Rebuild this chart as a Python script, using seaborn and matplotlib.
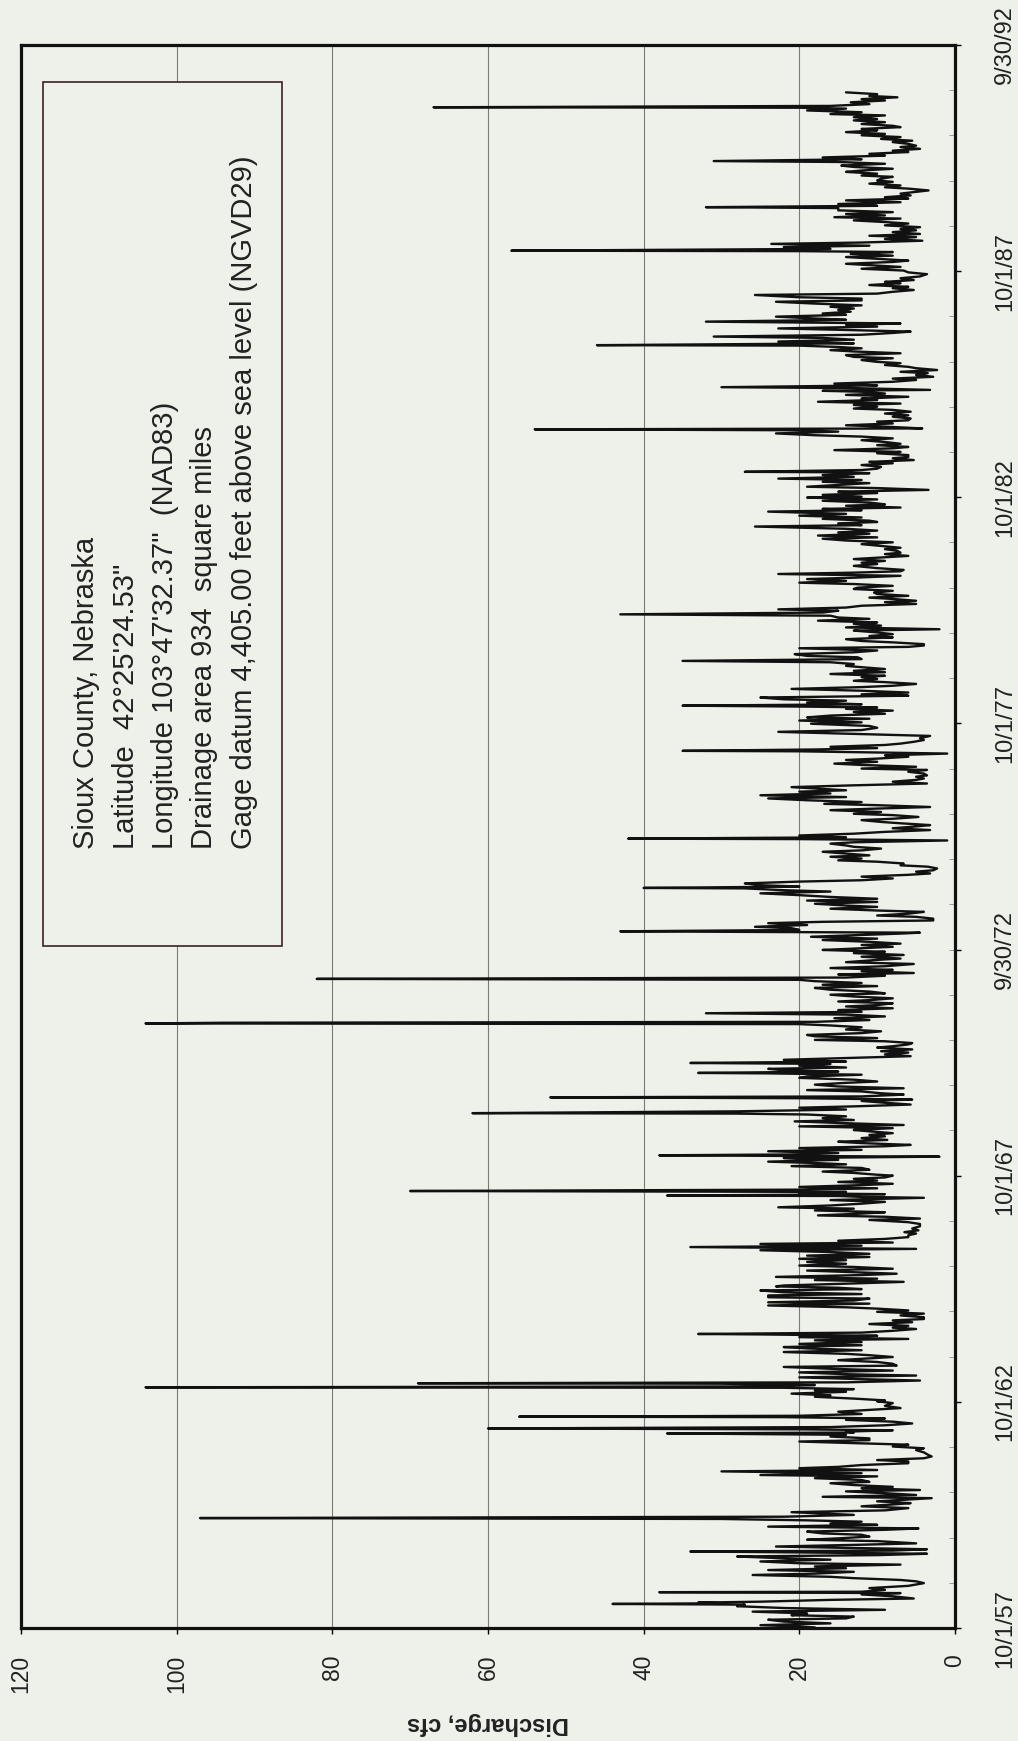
import numpy as np
import pandas as pd
import matplotlib
matplotlib.use("Agg")
import matplotlib.pyplot as plt
import matplotlib.dates as mdates
from matplotlib.patches import Rectangle
from matplotlib.ticker import FixedLocator
import seaborn as sns

# ---------------- data: (decimal year, discharge in cfs) ----------------
flow_1957_62 = [
    (1957.76, 18), (1957.78, 20), (1957.81, 25), (1957.85, 16), (1957.89, 22), (1957.93, 24),
    (1957.96, 14), (1958.00, 13), (1958.03, 21), (1958.07, 19), (1958.11, 26), (1958.15, 9),
    (1958.19, 22), (1958.23, 28), (1958.265, 27), (1958.28, 44), (1958.295, 30), (1958.31, 33),
    (1958.33, 25), (1958.37, 16), (1958.40, 5.3), (1958.45, 8), (1958.49, 12), (1958.52, 7),
    (1958.54, 38), (1958.55, 12), (1958.59, 9), (1958.63, 11), (1958.68, 6), (1958.74, 4),
    (1958.78, 5), (1958.81, 7), (1958.85, 13), (1958.88, 16), (1958.92, 26), (1958.95, 18),
    (1958.99, 13), (1959.03, 24), (1959.07, 14), (1959.11, 18), (1959.15, 7), (1959.18, 20),
    (1959.22, 25), (1959.26, 16), (1959.29, 22), (1959.33, 28), (1959.36, 10), (1959.39, 3.6),
    (1959.42, 20), (1959.44, 34), (1959.46, 8), (1959.49, 3.6), (1959.52, 14), (1959.55, 23),
    (1959.59, 12), (1959.62, 5), (1959.67, 10), (1959.70, 19), (1959.73, 15), (1959.77, 11),
    (1959.81, 12), (1959.84, 17), (1959.88, 19), (1959.92, 9), (1959.95, 4.7), (1959.99, 24),
    (1960.03, 10), (1960.06, 16), (1960.10, 12), (1960.13, 19), (1960.16, 30), (1960.18, 97),
    (1960.21, 22), (1960.25, 13), (1960.28, 17), (1960.31, 21), (1960.35, 9), (1960.40, 6),
    (1960.44, 12), (1960.48, 8), (1960.51, 5.7), (1960.55, 10), (1960.58, 7), (1960.62, 3),
    (1960.65, 17), (1960.69, 5), (1960.73, 9), (1960.77, 14), (1960.80, 4.5), (1960.84, 12),
    (1960.87, 8), (1960.91, 13), (1960.95, 16), (1960.98, 11), (1961.02, 12), (1961.06, 18),
    (1961.10, 10), (1961.13, 25), (1961.17, 12), (1961.21, 30), (1961.24, 10), (1961.28, 20),
    (1961.31, 15), (1961.35, 12), (1961.39, 6), (1961.43, 6), (1961.46, 10), (1961.50, 4),
    (1961.54, 3), (1961.58, 3.5), (1961.63, 4), (1961.68, 5), (1961.72, 4), (1961.76, 8),
    (1961.80, 6), (1961.84, 14), (1961.87, 20), (1961.90, 11), (1961.94, 11), (1961.98, 16),
    (1962.02, 14), (1962.05, 37), (1962.07, 13), (1962.09, 14), (1962.12, 8), (1962.14, 20),
    (1962.16, 60), (1962.19, 16), (1962.23, 9), (1962.27, 5.5), (1962.31, 8), (1962.35, 14),
    (1962.38, 9), (1962.41, 22), (1962.42, 56), (1962.44, 20), (1962.48, 12), (1962.53, 15),
    (1962.57, 11), (1962.61, 7), (1962.66, 9), (1962.72, 8),
]

flow_1962_67 = [
    (1962.76, 10), (1962.78, 9), (1962.82, 13), (1962.86, 18), (1962.89, 16), (1962.93, 21),
    (1962.97, 14), (1963.00, 18), (1963.03, 13), (1963.06, 22), (1963.07, 104), (1963.09, 25),
    (1963.12, 18), (1963.15, 30), (1963.16, 69), (1963.18, 14), (1963.20, 9), (1963.22, 4.5),
    (1963.25, 12), (1963.29, 20), (1963.33, 5), (1963.36, 14), (1963.40, 20), (1963.44, 8),
    (1963.48, 16), (1963.52, 22), (1963.55, 7.5), (1963.59, 8), (1963.63, 10), (1963.67, 15),
    (1963.70, 12), (1963.74, 8), (1963.78, 11), (1963.81, 14), (1963.85, 22), (1963.89, 12),
    (1963.93, 19), (1963.96, 22), (1964.00, 12), (1964.03, 20), (1964.07, 12), (1964.11, 18),
    (1964.14, 6), (1964.18, 20), (1964.21, 10), (1964.24, 25), (1964.25, 33), (1964.28, 12),
    (1964.32, 8), (1964.36, 5), (1964.39, 8), (1964.43, 6), (1964.47, 11), (1964.51, 5.5),
    (1964.55, 8), (1964.58, 4), (1964.62, 4), (1964.66, 7), (1964.70, 4), (1964.74, 10),
    (1964.77, 6), (1964.81, 10), (1964.84, 14), (1964.88, 24), (1964.92, 11), (1964.95, 24),
    (1964.99, 13), (1965.03, 11), (1965.06, 24), (1965.10, 24), (1965.13, 12), (1965.17, 22),
    (1965.21, 25), (1965.24, 12), (1965.27, 15), (1965.30, 23), (1965.32, 22), (1965.36, 14),
    (1965.40, 6.6), (1965.44, 18), (1965.47, 10), (1965.51, 23), (1965.55, 12), (1965.58, 7.5),
    (1965.62, 14), (1965.65, 19), (1965.69, 8), (1965.73, 13), (1965.76, 20), (1965.80, 14),
    (1965.84, 19), (1965.88, 14), (1965.91, 20), (1965.95, 11), (1965.98, 19), (1966.02, 11),
    (1966.06, 16), (1966.10, 25), (1966.13, 5), (1966.17, 34), (1966.20, 12), (1966.24, 25),
    (1966.27, 8), (1966.31, 15), (1966.35, 9), (1966.39, 6), (1966.43, 6), (1966.47, 5),
    (1966.50, 6.5), (1966.54, 4.7), (1966.58, 5.5), (1966.63, 4.5), (1966.68, 4.5), (1966.72, 6),
    (1966.77, 11), (1966.80, 4.5), (1966.84, 9), (1966.87, 17.6), (1966.91, 12), (1966.94, 9),
    (1966.98, 18), (1967.02, 13), (1967.05, 22.7), (1967.09, 16), (1967.13, 12), (1967.17, 9),
    (1967.21, 16), (1967.26, 4), (1967.28, 12), (1967.30, 15), (1967.31, 37), (1967.34, 9),
    (1967.36, 20), (1967.39, 14), (1967.41, 70), (1967.44, 20), (1967.47, 10), (1967.50, 20),
    (1967.54, 12), (1967.57, 8), (1967.61, 15), (1967.64, 10), (1967.68, 13), (1967.71, 9),
    (1967.75, 8),
]

flow_1967_72 = [
    (1967.77, 10), (1967.81, 13), (1967.84, 17), (1967.88, 11), (1967.92, 12), (1967.96, 21),
    (1968.00, 14), (1968.03, 18), (1968.06, 24), (1968.10, 15), (1968.14, 22), (1968.17, 2),
    (1968.20, 38), (1968.22, 20), (1968.25, 15), (1968.29, 24), (1968.32, 12), (1968.36, 20),
    (1968.40, 9), (1968.43, 5.7), (1968.47, 12), (1968.50, 15), (1968.54, 8.7), (1968.58, 12),
    (1968.62, 9), (1968.65, 11), (1968.69, 8), (1968.73, 11), (1968.76, 13), (1968.80, 8),
    (1968.84, 20), (1968.87, 6.6), (1968.91, 14), (1968.95, 20.6), (1968.98, 13), (1969.02, 17),
    (1969.06, 14), (1969.10, 19), (1969.12, 28), (1969.13, 62), (1969.17, 28), (1969.21, 14),
    (1969.25, 20), (1969.28, 13), (1969.32, 5.7), (1969.36, 9), (1969.40, 12), (1969.43, 5.5),
    (1969.46, 20), (1969.48, 52), (1969.50, 12), (1969.54, 6.6), (1969.57, 9.5), (1969.61, 12),
    (1969.64, 19), (1969.68, 6.6), (1969.72, 15), (1969.76, 18), (1969.80, 14), (1969.83, 10),
    (1969.87, 13), (1969.91, 20), (1969.94, 19), (1969.98, 12), (1970.01, 24), (1970.02, 33),
    (1970.05, 15), (1970.08, 22), (1970.11, 24), (1970.14, 14), (1970.18, 20), (1970.22, 16),
    (1970.24, 34), (1970.27, 14), (1970.31, 22), (1970.35, 14), (1970.39, 5.7), (1970.43, 9),
    (1970.47, 6), (1970.50, 9.5), (1970.54, 5.5), (1970.58, 10), (1970.61, 8), (1970.65, 6),
    (1970.68, 5.5), (1970.72, 9), (1970.75, 18), (1970.79, 10), (1970.83, 18), (1970.86, 19),
    (1970.90, 12), (1970.94, 9.5), (1970.98, 14), (1971.03, 12), (1971.07, 16), (1971.10, 20),
    (1971.115, 104), (1971.13, 94), (1971.15, 18), (1971.19, 11), (1971.23, 15.5), (1971.27, 9),
    (1971.31, 14), (1971.34, 32), (1971.37, 12), (1971.41, 15), (1971.45, 8), (1971.49, 14),
    (1971.52, 10), (1971.56, 8), (1971.60, 15), (1971.63, 11), (1971.67, 8), (1971.71, 13),
    (1971.75, 16), (1971.78, 9), (1971.82, 11), (1971.86, 16), (1971.90, 18), (1971.94, 10),
    (1971.97, 17), (1972.01, 12), (1972.05, 18), (1972.08, 20), (1972.10, 82), (1972.13, 14),
    (1972.17, 9), (1972.20, 15), (1972.23, 5.3), (1972.27, 12), (1972.30, 8), (1972.34, 16),
    (1972.38, 9), (1972.43, 5.3), (1972.47, 14), (1972.52, 10), (1972.55, 7), (1972.59, 12),
    (1972.63, 6.6), (1972.67, 13), (1972.70, 9), (1972.74, 17),
]

flow_1972_77 = [
    (1972.77, 13), (1972.81, 8), (1972.85, 12), (1972.88, 7), (1972.92, 11), (1972.96, 17),
    (1972.99, 10), (1973.03, 18.5), (1973.07, 12), (1973.10, 7), (1973.12, 4.5), (1973.15, 43),
    (1973.18, 20), (1973.22, 21), (1973.25, 25.7), (1973.29, 19), (1973.33, 24), (1973.36, 17),
    (1973.39, 2.8), (1973.43, 2.8), (1973.47, 5), (1973.50, 10), (1973.54, 6), (1973.58, 4),
    (1973.61, 10), (1973.65, 16), (1973.69, 10), (1973.72, 14), (1973.76, 18), (1973.80, 10),
    (1973.83, 19), (1973.87, 10), (1973.91, 16), (1973.95, 20), (1973.99, 25), (1974.03, 16),
    (1974.06, 22), (1974.10, 27), (1974.11, 40), (1974.14, 20), (1974.17, 25), (1974.21, 27),
    (1974.25, 20), (1974.28, 12), (1974.32, 8), (1974.36, 12), (1974.40, 6), (1974.43, 3.2),
    (1974.47, 5), (1974.50, 2.8), (1974.54, 2.3), (1974.58, 3.5), (1974.61, 7), (1974.65, 6.6),
    (1974.69, 10), (1974.72, 15), (1974.76, 12), (1974.80, 16), (1974.83, 11), (1974.87, 14),
    (1974.91, 17), (1974.94, 12), (1974.98, 9.5), (1975.02, 13), (1975.05, 14), (1975.09, 16),
    (1975.12, 13), (1975.16, 1), (1975.19, 20), (1975.20, 42), (1975.23, 14), (1975.27, 20),
    (1975.31, 13), (1975.35, 9), (1975.39, 3.2), (1975.43, 8), (1975.47, 5), (1975.50, 3.2),
    (1975.54, 7), (1975.57, 9.5), (1975.61, 12), (1975.64, 8), (1975.68, 4.7), (1975.72, 8),
    (1975.75, 13), (1975.79, 9.5), (1975.83, 16), (1975.86, 11), (1975.90, 3.2), (1975.94, 10),
    (1975.97, 16.8), (1976.01, 12), (1976.05, 19), (1976.09, 24), (1976.12, 14), (1976.16, 25),
    (1976.20, 16), (1976.24, 20), (1976.27, 14), (1976.31, 18), (1976.34, 21), (1976.38, 13),
    (1976.42, 3.6), (1976.46, 8), (1976.50, 5), (1976.53, 4), (1976.57, 5), (1976.60, 3.6),
    (1976.64, 4), (1976.68, 6), (1976.72, 3.6), (1976.75, 12), (1976.79, 5), (1976.83, 12),
    (1976.86, 15.5), (1976.90, 10), (1976.94, 14), (1976.97, 10), (1977.01, 6), (1977.04, 9),
    (1977.08, 1), (1977.13, 20), (1977.14, 35), (1977.17, 18), (1977.20, 10), (1977.23, 16),
    (1977.27, 9), (1977.30, 7), (1977.34, 5.3), (1977.38, 4), (1977.42, 4.5), (1977.47, 3.2),
    (1977.51, 12), (1977.56, 22.7), (1977.60, 12), (1977.65, 10), (1977.69, 11), (1977.74, 18.5),
]

flow_1977_82 = [
    (1977.77, 12), (1977.81, 20), (1977.85, 11), (1977.88, 19), (1977.92, 16), (1977.96, 9),
    (1978.00, 13), (1978.03, 8), (1978.07, 14), (1978.10, 10), (1978.12, 20), (1978.14, 35),
    (1978.17, 12), (1978.21, 19), (1978.25, 14), (1978.28, 22), (1978.32, 25), (1978.36, 6),
    (1978.39, 12), (1978.43, 6), (1978.47, 12), (1978.51, 21), (1978.55, 12), (1978.58, 8),
    (1978.62, 5), (1978.66, 9), (1978.69, 13), (1978.73, 10), (1978.77, 12), (1978.80, 9),
    (1978.84, 16), (1978.88, 9), (1978.91, 13), (1978.95, 9), (1978.99, 12), (1979.02, 14),
    (1979.06, 13), (1979.10, 16), (1979.13, 35), (1979.17, 12), (1979.21, 12.5), (1979.24, 19),
    (1979.28, 20.6), (1979.32, 13), (1979.36, 10), (1979.41, 20), (1979.44, 6), (1979.47, 4),
    (1979.50, 4), (1979.54, 8), (1979.57, 12), (1979.61, 14), (1979.65, 8), (1979.68, 11),
    (1979.72, 8), (1979.76, 10), (1979.80, 13), (1979.83, 2), (1979.87, 14), (1979.91, 9.5),
    (1979.95, 13), (1979.98, 10), (1980.02, 17.6), (1980.06, 11), (1980.09, 15), (1980.13, 16),
    (1980.16, 43), (1980.20, 17), (1980.24, 15), (1980.27, 22.7), (1980.31, 14), (1980.35, 12),
    (1980.39, 5), (1980.43, 9), (1980.46, 5), (1980.50, 8), (1980.53, 11), (1980.57, 6),
    (1980.61, 10), (1980.64, 10.4), (1980.68, 8), (1980.72, 13), (1980.75, 12.5), (1980.79, 8),
    (1980.83, 13), (1980.86, 20), (1980.90, 14), (1980.94, 19), (1980.97, 13), (1981.01, 7),
    (1981.05, 22.7), (1981.08, 13), (1981.11, 7), (1981.14, 6.6), (1981.18, 10), (1981.23, 13),
    (1981.27, 10), (1981.30, 12), (1981.34, 9), (1981.38, 13), (1981.41, 10), (1981.45, 6),
    (1981.49, 9), (1981.52, 7), (1981.56, 7.4), (1981.60, 9), (1981.63, 7), (1981.67, 9.5),
    (1981.71, 12), (1981.75, 8), (1981.79, 14), (1981.83, 17), (1981.86, 10), (1981.90, 17.6),
    (1981.94, 11), (1981.97, 15), (1982.01, 10), (1982.05, 14), (1982.10, 25.7), (1982.13, 12),
    (1982.17, 15), (1982.20, 10), (1982.23, 11), (1982.27, 17), (1982.30, 12), (1982.34, 20),
    (1982.38, 14), (1982.43, 24), (1982.46, 12), (1982.49, 17), (1982.52, 7), (1982.56, 14),
    (1982.59, 9), (1982.63, 11), (1982.67, 17), (1982.70, 10), (1982.74, 19),
]

flow_1982_87 = [
    (1982.76, 12), (1982.80, 17), (1982.84, 10), (1982.87, 15), (1982.91, 3.4), (1982.95, 10),
    (1982.98, 19), (1983.02, 15), (1983.06, 11), (1983.09, 17), (1983.13, 12), (1983.16, 22.7),
    (1983.20, 13), (1983.24, 17), (1983.28, 11), (1983.30, 14), (1983.31, 27), (1983.35, 12),
    (1983.38, 10), (1983.42, 9.5), (1983.46, 12), (1983.50, 8), (1983.53, 11), (1983.57, 5.3),
    (1983.61, 8), (1983.64, 6), (1983.68, 6), (1983.72, 10), (1983.75, 7), (1983.79, 15.5),
    (1983.83, 8), (1983.86, 6), (1983.90, 10), (1983.93, 7), (1983.97, 9), (1984.01, 12),
    (1984.05, 8), (1984.09, 12), (1984.12, 18), (1984.16, 23), (1984.20, 15), (1984.23, 20),
    (1984.25, 54), (1984.27, 4.2), (1984.31, 9), (1984.34, 14), (1984.38, 8), (1984.42, 10),
    (1984.45, 6), (1984.49, 5.7), (1984.53, 8), (1984.56, 6), (1984.60, 9), (1984.64, 5.7),
    (1984.68, 8), (1984.71, 13), (1984.75, 10), (1984.79, 13), (1984.82, 7), (1984.86, 17.6),
    (1984.90, 10), (1984.93, 12), (1984.97, 6), (1985.01, 14), (1985.04, 9), (1985.08, 12),
    (1985.10, 17), (1985.12, 3.2), (1985.16, 13), (1985.18, 30), (1985.22, 10), (1985.26, 15.5),
    (1985.30, 8), (1985.34, 5), (1985.37, 8), (1985.41, 2.8), (1985.45, 5), (1985.49, 3.5),
    (1985.52, 7), (1985.56, 2.3), (1985.60, 5), (1985.63, 6), (1985.67, 9), (1985.71, 7),
    (1985.74, 10), (1985.78, 12), (1985.82, 8), (1985.85, 13), (1985.89, 14), (1985.93, 7),
    (1985.97, 13), (1986.00, 16), (1986.04, 12), (1986.07, 15), (1986.10, 20), (1986.11, 46),
    (1986.15, 13), (1986.19, 22.7), (1986.23, 13), (1986.27, 17), (1986.30, 31), (1986.34, 12),
    (1986.38, 8), (1986.41, 5.7), (1986.45, 15), (1986.48, 22.7), (1986.52, 10), (1986.56, 14),
    (1986.59, 7), (1986.63, 32), (1986.67, 14), (1986.70, 18), (1986.74, 23), (1986.78, 14),
    (1986.81, 17), (1986.85, 13.4), (1986.89, 15), (1986.92, 13), (1986.96, 16), (1986.99, 12),
    (1987.03, 18), (1987.07, 23), (1987.10, 12), (1987.14, 12), (1987.17, 20), (1987.22, 25.7),
    (1987.25, 10), (1987.29, 8), (1987.33, 5.3), (1987.37, 8), (1987.40, 6), (1987.44, 11),
    (1987.48, 7), (1987.51, 9), (1987.55, 5.3), (1987.59, 7), (1987.63, 4.5), (1987.68, 3.6),
    (1987.72, 6),
]

flow_1987_92 = [
    (1987.76, 6.6), (1987.80, 12), (1987.84, 7), (1987.88, 11), (1987.91, 14), (1987.95, 8),
    (1987.98, 6), (1988.02, 10), (1988.06, 14), (1988.09, 8), (1988.13, 13.4), (1988.17, 8),
    (1988.19, 20), (1988.20, 57), (1988.24, 16), (1988.28, 22), (1988.31, 11), (1988.35, 23.6),
    (1988.38, 12), (1988.42, 4.2), (1988.46, 9), (1988.50, 5), (1988.53, 11), (1988.57, 4.5),
    (1988.61, 8), (1988.65, 5), (1988.68, 7), (1988.72, 4.5), (1988.76, 9), (1988.80, 6),
    (1988.83, 8.7), (1988.87, 13), (1988.91, 7), (1988.94, 15.5), (1988.98, 9), (1989.01, 14),
    (1989.05, 8), (1989.09, 15), (1989.14, 15), (1989.16, 32), (1989.19, 10), (1989.23, 15),
    (1989.27, 7), (1989.31, 14), (1989.35, 6), (1989.38, 9), (1989.42, 5.7), (1989.46, 7),
    (1989.50, 5), (1989.53, 3.4), (1989.57, 6), (1989.60, 9), (1989.64, 7), (1989.68, 11),
    (1989.72, 8), (1989.75, 10), (1989.79, 9.5), (1989.83, 8), (1989.86, 12), (1989.90, 10),
    (1989.94, 14), (1989.97, 12), (1990.01, 8), (1990.05, 13), (1990.08, 14.6), (1990.12, 9),
    (1990.16, 15), (1990.18, 31), (1990.22, 12), (1990.26, 17), (1990.30, 9), (1990.34, 11),
    (1990.38, 6), (1990.41, 8), (1990.45, 4.5), (1990.49, 7), (1990.52, 5), (1990.56, 6),
    (1990.60, 8), (1990.63, 5.5), (1990.67, 9.5), (1990.71, 7), (1990.75, 12), (1990.78, 9),
    (1990.82, 14), (1990.86, 10), (1990.89, 12), (1990.93, 7), (1990.96, 8), (1991.00, 12),
    (1991.04, 9), (1991.08, 13), (1991.11, 10), (1991.15, 13), (1991.19, 9), (1991.22, 16),
    (1991.26, 12), (1991.30, 19), (1991.34, 14), (1991.36, 20), (1991.37, 67), (1991.40, 16),
    (1991.44, 11), (1991.48, 13.4), (1991.52, 9), (1991.55, 12), (1991.59, 7.4), (1991.62, 11),
    (1991.66, 10), (1991.70, 14),
]

tick_dates = ["1957-10-01", "1962-10-01", "1967-10-01", "1972-09-30",
              "1977-10-01", "1982-10-01", "1987-10-01", "1992-09-30"]
tick_labels = ["10/1/57", "10/1/62", "10/1/67", "9/30/72",
               "10/1/77", "10/1/82", "10/1/87", "9/30/92"]
q_ticks = [0, 20, 40, 60, 80, 100, 120]

info_lines = ["Sioux County, Nebraska",
              "Latitude  42\u00b025'24.53\"",
              "Longitude 103\u00b047'32.37\"  (NAD83)",
              "Drainage area 934  square miles",
              "Gage datum 4,405.00 feet above sea level (NGVD29)"]


def dec_to_date(t):
    y = int(np.floor(t))
    return pd.Timestamp(year=y, month=1, day=1) + pd.Timedelta(days=(t - y) * 365.25)


records = (flow_1957_62 + flow_1962_67 + flow_1967_72 + flow_1972_77
           + flow_1977_82 + flow_1982_87 + flow_1987_92)
df = pd.DataFrame({"date": [dec_to_date(t) for t, _ in records],
                   "discharge": [q for _, q in records]})

# ---------------- figure ----------------
BG = "#eef0ea"
sns.set_theme(style="white")
plt.rcParams["font.family"] = ["Liberation Sans", "DejaVu Sans"]

W, H = 1018, 1741
fig = plt.figure(figsize=(W / 100, H / 100), dpi=100, facecolor=BG)
ax = fig.add_axes([21 / W, (H - 1628) / H, (955 - 21) / W, (1628 - 45) / H])
ax.set_facecolor(BG)

sns.lineplot(data=df, x="discharge", y="date", orient="y", estimator=None,
             color="#111111", lw=1.7, ax=ax, zorder=2)

ax.set_xlim(120, 0)
ax.set_ylim(pd.Timestamp("1957-10-01"), pd.Timestamp("1992-09-30"))

ax.set_xticks(q_ticks)
ax.set_xticklabels([str(v) for v in q_ticks])
ax.xaxis.grid(True, color="#7a7a7a", lw=0.8)
ax.yaxis.grid(False)
ax.set_axisbelow(True)

ax.yaxis.tick_right()
ax.set_yticks([pd.Timestamp(d) for d in tick_dates])
ax.set_yticklabels(tick_labels, rotation=90, va="center")
minor = [mdates.date2num(pd.Timestamp(year=y, month=10, day=1)) for y in range(1958, 1992)]
ax.yaxis.set_minor_locator(FixedLocator(minor))

ax.tick_params(axis="x", which="major", length=4, width=1, pad=15, labelsize=16.5,
               labelrotation=90, color="black", bottom=True, direction="out")
ax.tick_params(axis="y", which="major", length=4, width=1, pad=24, labelsize=17,
               color="black", right=True, left=False, direction="out")
ax.tick_params(axis="y", which="minor", length=4, width=0.7, color="#9a9a9a",
               right=True, left=False, direction="in")
for lab in ax.get_xticklabels() + ax.get_yticklabels():
    lab.set_color("#222222")

for s in ax.spines.values():
    s.set_visible(True)
    s.set_color("#111111")
    s.set_linewidth(2.3)

ax.set_ylabel("")
ax.set_xlabel("Discharge, cfs", fontsize=17, fontweight="bold", rotation=180,
              labelpad=14, color="#222222")

# info box
box = Rectangle((43 / W, (H - 946) / H), (282 - 43) / W, (946 - 82) / H,
                transform=fig.transFigure, facecolor=BG, edgecolor="#3a2222",
                lw=1.2, zorder=3, clip_on=False)
ax.add_patch(box)
xs = [86, 126, 165, 204, 244]
for xc, line in zip(xs, info_lines):
    ax.text(xc / W, (H - 849) / H, line, transform=fig.transFigure, rotation=90,
            ha="center", va="bottom", fontsize=21, color="#222222", zorder=4)

fig.savefig("out.png", dpi=100, facecolor=BG)
